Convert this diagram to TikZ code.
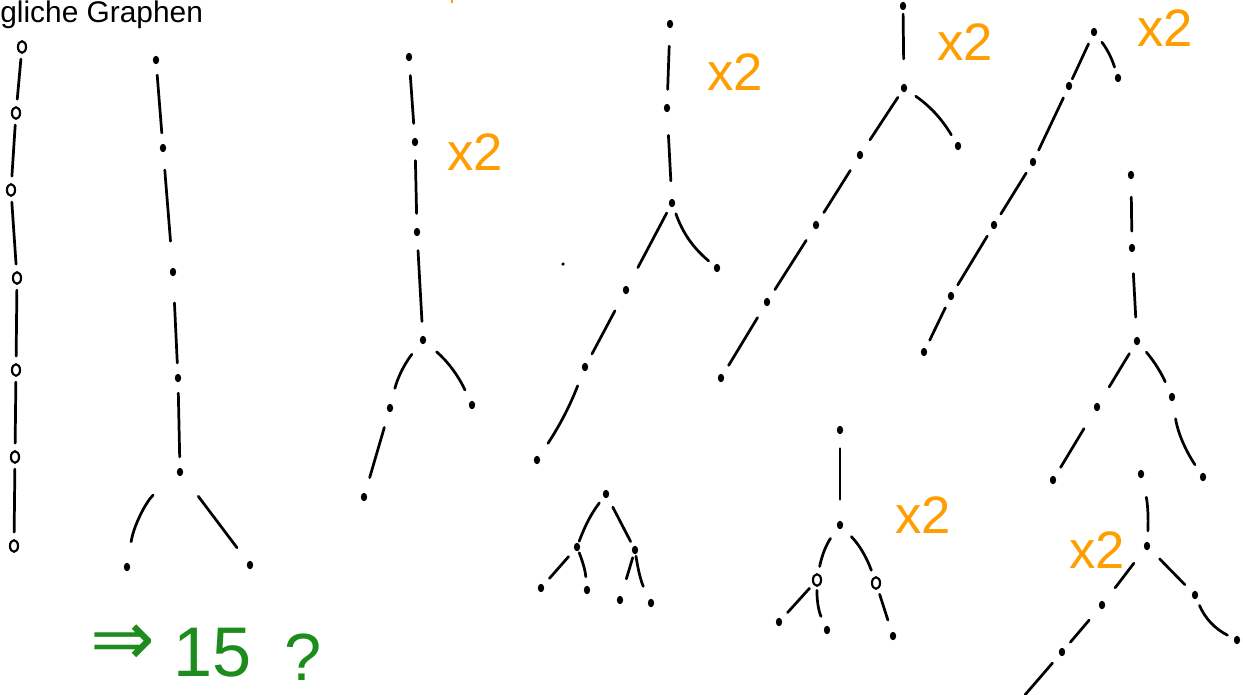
\documentclass[tikz,border=0pt]{standalone}
\usepackage{fontspec}
\setmainfont{Liberation Sans}
\newfontfamily\arrowfont{DejaVu Sans}
\usetikzlibrary{shapes.geometric}
\definecolor{penorange}{RGB}{255,158,0}
\definecolor{pengreen}{RGB}{28,140,28}

\begin{document}
\begin{tikzpicture}[x=0.02cm,y=-0.02cm,
  vtx/.style={ellipse,fill=black,inner sep=0pt,minimum width=3.6pt,minimum height=4.8pt},
  ring/.style={ellipse,draw,line width=1.2pt,inner sep=0pt,minimum width=4.6pt,minimum height=6.6pt},
  twig/.style={line width=1.55pt,line cap=round,shorten <=6pt,shorten >=6pt},
  mult/.style={text=penorange,font=\fontsize{30}{30}\selectfont,inner sep=0pt},
  note/.style={text=pengreen,inner sep=0pt}]
\useasboundingbox (0,0) rectangle (1243,694);

\node[anchor=base west,inner sep=0pt,font=\fontsize{17}{20}\selectfont] (title) at (0,22) {gliche Graphen};
\draw[penorange,line width=1.5pt] (452,0)--(452,3);

% path of seven
\node[ring] (a0) at (22,47) {};
\node[ring] (a1) at (16,113) {};
\node[ring] (a2) at (11,190) {};
\node[ring] (a3) at (17,278) {};
\node[ring] (a4) at (16,370) {};
\node[ring] (a5) at (15,457) {};
\node[ring] (a6) at (14,546) {};
\foreach \i/\j in {0/1,1/2,2/3,3/4,4/5,5/6}
  \draw[twig,shorten <=3pt,shorten >=4pt] (a\i)--(a\j);

% long stem, one fork
\node[vtx] (b0) at (156,60) {};
\node[vtx] (b1) at (163,148) {};
\node[vtx] (b2) at (173,272) {};
\node[vtx] (b3) at (178,378) {};
\node[vtx] (b4) at (180,472) {};
\node[vtx] (b5) at (127,567) {};
\node[vtx] (b6) at (250,565) {};
\draw[twig] (b0)--(b1);
\draw[twig,shorten <=10pt,shorten >=15pt] (b1)--(b2);
\draw[twig,shorten <=15pt] (b2)--(b3);
\draw[twig] (b3)--(b4);
\draw[twig,bend right=20,shorten <=18pt,shorten >=12pt] (b4) to (b5);
\draw[twig,shorten <=15pt,shorten >=10pt] (b4)--(b6);

% fork with one longer arm
\node[vtx] (c0) at (409,57) {};
\node[vtx] (c1) at (415,142) {};
\node[vtx] (c2) at (417,232) {};
\node[vtx] (c3) at (423,340) {};
\node[vtx] (c4) at (390,408) {};
\node[vtx] (c5) at (472,405) {};
\node[vtx] (c6) at (364,497) {};
\foreach \i/\j in {0/1,1/2,2/3}
  \draw[twig,shorten <=8pt,shorten >=8pt] (c\i)--(c\j);
\draw[twig,bend right=12,shorten <=8pt,shorten >=9pt] (c3) to (c4);
\draw[twig,bend left=12,shorten <=8pt,shorten >=7pt] (c3) to (c5);
\draw[twig,shorten <=9pt,shorten >=9pt] (c4)--(c6);
\node[mult] (x0) at (475,152) {x2};

% fork high up
\node[vtx] (d0) at (670,24) {};
\node[vtx] (d1) at (667,108) {};
\node[vtx] (d2) at (672,203) {};
\node[vtx] (d3) at (717,268) {};
\node[vtx] (d4) at (626,290) {};
\node[vtx] (d5) at (585,367) {};
\node[vtx] (d6) at (537,460) {};
\node[vtx,minimum width=2pt,minimum height=2pt] (s0) at (563,264) {};
\draw[twig,shorten <=10pt,shorten >=8pt] (d0)--(d1);
\draw[twig,shorten <=13pt,shorten >=10pt] (d1)--(d2);
\draw[twig,shorten <=4pt,shorten >=12pt] (d2)--(d4);
\draw[twig,bend right=15,shorten <=4pt,shorten >=4pt] (d2) to (d3);
\draw[twig,shorten <=11pt,shorten >=6pt] (d4)--(d5);
\draw[twig,bend left=6,shorten <=9pt,shorten >=9pt] (d5) to (d6);
\node[mult] (x1) at (735,72) {x2};

% fork at second vertex
\node[vtx] (e0) at (903,6) {};
\node[vtx] (e1) at (904,88) {};
\node[vtx] (e2) at (958,146) {};
\node[vtx] (e3) at (860,155) {};
\node[vtx] (e4) at (816,225) {};
\node[vtx] (e5) at (767,302) {};
\node[vtx] (e6) at (721,378) {};
\draw[twig,shorten <=2pt,shorten >=14pt] (e0)--(e1);
\draw[twig,shorten <=4pt,shorten >=8pt] (e1)--(e3);
\draw[twig,bend left=12,shorten <=6pt,shorten >=5pt] (e1) to (e2);
\foreach \i/\j in {3/4,4/5,5/6}
  \draw[twig,shorten <=8pt,shorten >=6pt] (e\i)--(e\j);
\node[mult] (x2) at (965,42) {x2};

% fork at the top
\node[vtx] (f0) at (1094,32) {};
\node[vtx] (f1) at (1118,78) {};
\node[vtx] (f2) at (1069,86) {};
\node[vtx] (f3) at (1033,162) {};
\node[vtx] (f4) at (994,225) {};
\node[vtx] (f5) at (951,296) {};
\node[vtx] (f6) at (924,352) {};
\draw[twig,shorten <=5pt,shorten >=2pt] (f0)--(f2);
\draw[twig,bend left=10,shorten <=5pt,shorten >=4pt] (f0) to (f1);
\foreach \i/\j in {2/3,3/4,4/5,5/6}
  \draw[twig,shorten <=5pt,shorten >=5pt] (f\i)--(f\j);
\node[mult] (x3) at (1165,28) {x2};

% two long arms
\node[vtx] (g0) at (1131,175) {};
\node[vtx] (g1) at (1132,248) {};
\node[vtx] (g2) at (1137,341) {};
\node[vtx] (g3) at (1097,407) {};
\node[vtx] (g4) at (1053,480) {};
\node[vtx] (g5) at (1172,397) {};
\node[vtx] (g6) at (1203,477) {};
\draw[twig,shorten <=10pt,shorten >=7pt] (g0)--(g1);
\draw[twig,shorten <=12pt,shorten >=11pt] (g1)--(g2);
\draw[twig,shorten <=6pt,shorten >=11pt] (g2)--(g3);
\draw[twig,bend left=8,shorten <=6pt,shorten >=7pt] (g2) to (g5);
\draw[twig,shorten <=12pt,shorten >=6pt] (g3)--(g4);
\draw[twig,bend right=12,shorten <=10pt,shorten >=6pt] (g5) to (g6);

% fork, arm runs off the page
\node[vtx] (h0) at (1141,474) {};
\node[vtx] (h1) at (1147,546) {};
\node[vtx] (h2) at (1102,605) {};
\node[vtx] (h3) at (1062,652) {};
\coordinate (h4) at (1024,696);
\node[vtx] (h5) at (1195,595) {};
\node[vtx] (h6) at (1237,640) {};
\draw[twig,bend left=8,shorten <=11pt,shorten >=6pt] (h0) to (h1);
\draw[twig,shorten <=10pt,shorten >=10pt] (h1)--(h2);
\draw[twig,shorten <=9pt,shorten >=5pt] (h2)--(h3);
\draw[twig,shorten <=6pt,shorten >=1pt] (h3)--(h4);
\draw[twig,shorten <=8pt,shorten >=6pt] (h1)--(h5);
\draw[twig,bend right=20,shorten <=4pt,shorten >=4pt] (h5) to (h6);
\node[mult] (x4) at (1097,550) {x2};

% binary tree
\node[vtx] (k0) at (606,494) {};
\node[vtx] (k1) at (577,547) {};
\node[vtx] (k2) at (635,550) {};
\node[vtx] (k3) at (541,588) {};
\node[vtx] (k4) at (587,590) {};
\node[vtx] (k5) at (620,600) {};
\node[vtx] (k6) at (651,603) {};
\draw[twig,bend right=8,shorten <=4pt,shorten >=1pt] (k0) to (k1);
\draw[twig,shorten <=6pt,shorten >=3pt] (k0)--(k2);
\draw[twig,shorten <=5pt,shorten >=5pt] (k1)--(k3);
\draw[twig,bend left=8,shorten <=1pt,shorten >=5pt] (k1) to (k4);
\draw[twig,shorten <=2pt,shorten >=10pt] (k2)--(k5);
\draw[twig,bend right=8,shorten <=1pt,shorten >=8pt] (k2) to (k6);

% stem on a small tree
\node[vtx] (m0) at (840,430) {};
\node[vtx] (m1) at (840,525) {};
\node[ring] (m2) at (817,580) {};
\node[ring] (m3) at (876,583) {};
\node[vtx] (m4) at (779,622) {};
\node[vtx] (m5) at (827,630) {};
\node[vtx] (m6) at (893,636) {};
\draw[twig,shorten <=8pt,shorten >=12pt] (m0)--(m1);
\draw[twig,bend right=12,shorten <=7pt,shorten >=4pt] (m1) to (m2);
\draw[twig,bend left=12,shorten <=7pt,shorten >=4pt] (m1) to (m3);
\draw[twig,shorten <=3pt,shorten >=5pt] (m2)--(m4);
\draw[twig,bend right=12,shorten <=2pt,shorten >=6pt] (m2) to (m5);
\draw[twig,shorten <=3pt,shorten >=7pt] (m3)--(m6);
\node[mult] (x5) at (923,515) {x2};

% count
\node[note,anchor=base,font=\arrowfont\fontsize{44}{44}\selectfont] (res0) at (123,665) {⇒};
\node[note,anchor=base,font=\fontsize{40}{40}\selectfont] (res1) at (213,676) {15};
\node[note,anchor=base,font=\fontsize{38}{38}\selectfont] (res2) at (303,680) {?};
\end{tikzpicture}
\end{document}
